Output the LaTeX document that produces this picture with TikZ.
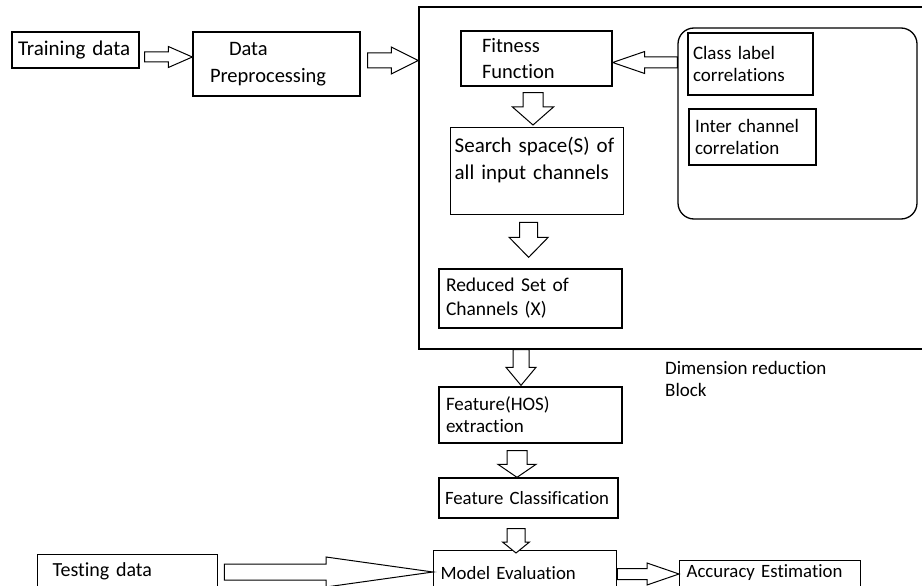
\documentclass[tikz,border=0pt]{standalone}
\usepackage{fontspec}
\setmainfont{Carlito}[Ligatures=NoCommon]
\usetikzlibrary{calc}
\newcommand\blkarrow[5]{%
  \path (#2) coordinate (batip) ($(#2)!#5!(#1)$) coordinate (bahead);
  \draw[blk] ($(#1)!#3!90:(batip)$) -- ($(bahead)!#3!90:(batip)$) -- ($(bahead)!#4!90:(batip)$) -- (batip) -- ($(bahead)!#4!-90:(batip)$) -- ($(bahead)!#3!-90:(batip)$) -- ($(#1)!#3!-90:(batip)$) -- cycle;}
\begin{document}
\begin{tikzpicture}[x=1pt,y=-1pt,
  box/.style={draw, line width=1.3pt, inner ysep=0pt, align=left},
  blk/.style={draw, line width=1pt, fill=white, line join=miter},
  fs/.style 2 args={font=\fontsize{#1pt}{#2pt}\selectfont}]
\clip (0,0) rectangle (922,586);
\fill[white] (0,0) rectangle (922,586);

\node[box, fs={21}{25}, minimum height=36pt, inner xsep=6pt, text width=115pt] (train) at (75.5,50) {Training data};
\node[box, fs={20.5}{27}, minimum height=64pt, inner xsep=17pt, text width=133pt] (prep) at (276.5,64) {\hspace*{19pt}Data\\Preprocessing};

\node[draw, line width=1.3pt, minimum width=511pt, minimum height=342pt, inner sep=0pt] (dimred) at (674.5,178) {};

\node[box, fs={20.5}{26}, minimum height=55pt, inner xsep=21pt, text width=109pt] (fitness) at (536.5,58.5) {Fitness\\Function};
\node[box, fs={21}{27}, anchor=north west, inner xsep=4pt, text width=165pt, text height=25pt, text depth=62pt] (search) at (450,127) {Search space(S) of\\all input channels};
\node[box, fs={19.5}{24}, minimum height=59pt, inner xsep=7pt, text width=169pt] (reduced) at (530.5,298.5) {Reduced Set of\\Channels (X)};

\node[draw, line width=1.3pt, rounded corners=16pt, minimum width=239pt, minimum height=191pt] (corr) at (797.5,123.5) {};
\node[box, fs={19}{22}, minimum height=62pt, inner xsep=5pt, text width=115pt] (classlab) at (750.5,64) {Class label\\correlations};
\node[box, fs={19}{22}, minimum height=56pt, inner xsep=6pt, text width=115pt] (inter) at (752.5,137) {Inter channel\\correlation};

\node[box, fs={19}{22}, minimum height=56pt, inner xsep=7pt, text width=169pt] (hos) at (530.5,415) {Feature(HOS)\\extraction};
\node[fs={19}{22}, align=left, anchor=west, inner sep=0pt] (dimlabel) at (665,379) {Dimension reduction\\Block};
\node[box, fs={18.8}{22}, minimum height=40pt, inner xsep=6pt, text width=167pt] (fclass) at (528.5,498) {Feature Classification};

\node[box, fs={18.8}{22}, anchor=north west, inner xsep=7pt, text width=169pt, text height=29pt, text depth=40pt] (model) at (433,550) {Model Evaluation};
\node[box, fs={20}{24}, anchor=north west, inner xsep=15pt, text width=150pt, text height=22pt, text depth=40pt] (testing) at (37,554) {Testing data};
\node[box, fs={18.8}{22}, anchor=north west, inner xsep=7pt, text width=167pt, text height=17pt, text depth=40pt] (accuracy) at (679,560) {Accuracy Estimation};

\coordinate (s1) at ($(train.east)+(5,7)$);
\coordinate (t1) at (prep.west |- s1);
\blkarrow{s1}{t1}{5pt}{10.5pt}{24pt}
\coordinate (s2) at ($(prep.east)+(7,-3.5)$);
\coordinate (t2) at (dimred.west |- s2);
\blkarrow{s2}{t2}{7.5pt}{13.5pt}{27pt}
\coordinate (t3) at ($(fitness.east)+(0,4)$);
\coordinate (s3) at (corr.west |- t3);
\blkarrow{s3}{t3}{5.5pt}{11pt}{32pt}
\coordinate (s4) at ($(fitness.south)+(-3.5,6)$);
\coordinate (t4) at ($(s4 |- search.north)+(0,-2)$);
\blkarrow{s4}{t4}{10pt}{20.5pt}{18pt}
\coordinate (s5) at ($(search.south)+(-8.5,7)$);
\coordinate (t5) at ($(s5 |- reduced.north)+(0,-11)$);
\blkarrow{s5}{t5}{9pt}{19.5pt}{20pt}
\coordinate (s6) at ($(hos.north |- dimred.south)+(-9.5,0)$);
\coordinate (t6) at ($(hos.north)+(-9.5,-1)$);
\blkarrow{s6}{t6}{8pt}{15pt}{18pt}
\coordinate (s7) at ($(hos.south)+(-13.5,7)$);
\coordinate (t7) at (s7 |- fclass.north);
\blkarrow{s7}{t7}{10pt}{19pt}{13pt}
\coordinate (s8) at ($(fclass.south)+(-12.5,10)$);
\coordinate (t8) at ($(s8 |- model.north)+(0,3)$);
\blkarrow{s8}{t8}{9pt}{13.5pt}{11pt}
\coordinate (s9) at ($(testing.north east)+(6,18)$);
\coordinate (t9) at (model.west |- s9);
\blkarrow{s9}{t9}{8pt}{15pt}{107pt}
\coordinate (s10) at ($(model.north east)+(0,24)$);
\coordinate (t10) at (accuracy.west |- s10);
\blkarrow{s10}{t10}{5.5pt}{11pt}{32pt}
\end{tikzpicture}
\end{document}
